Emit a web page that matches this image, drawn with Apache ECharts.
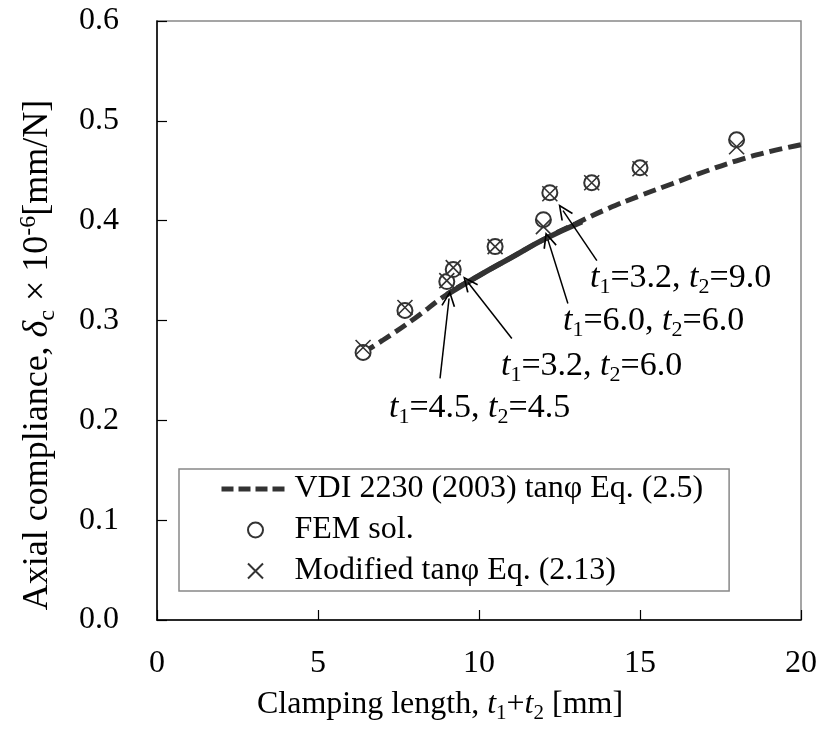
<!DOCTYPE html>
<html>
<head>
<meta charset="utf-8">
<script src="https://cdn.jsdelivr.net/npm/echarts@6/dist/echarts.min.js"></script>
<style>
	html, body {margin: 0; padding: 0; background: #fff;}
	#main {width: 820px; height: 730px;}
</style>
</head>
<body>
<div id="main"></div>
<script>
// ===========================================  data
// clamping length t1+t2 [mm]
var clampLen = [6.4, 7.7, 9.0, 9.2, 10.5, 12.0, 12.2, 13.5, 15.0, 18.0];
// axial compliance x 10^-6 [mm/N]
var femSol   = [0.268, 0.310, 0.339, 0.351, 0.374, 0.401, 0.428, 0.438, 0.453, 0.481];
var modTan   = [0.273, 0.313, 0.340, 0.353, 0.374, 0.394, 0.427, 0.438, 0.452, 0.474];
// VDI 2230 (2003) curve
var vdiLen = [6.4, 7, 8, 9, 10, 11, 12, 13, 14, 15, 16, 17, 18, 19, 20];
var vdiVal = [0.268, 0.280, 0.302, 0.326, 0.345, 0.363, 0.381, 0.397, 0.412, 0.425, 0.437, 0.449, 0.460, 0.469, 0.476];
// solid part of the curve (range of the bolted joints)
var solidLen = [9.0, 10, 11, 12, 13.2];
var solidVal = [0.326, 0.345, 0.363, 0.381, 0.399];
// tick labels
var xTicks = ['0', '5', '10', '15', '20'];
var yTicks = ['0.0', '0.1', '0.2', '0.3', '0.4', '0.5', '0.6'];
// arrows (data coords): tail -> tip
var arrowFrom = [[8.79, 0.242], [11.02, 0.282], [12.76, 0.317], [13.66, 0.360]];
var arrowTo   = [[9.07, 0.322], [9.66, 0.338], [12.14, 0.381], [12.61, 0.410]];
// annotation labels
var noteT1 = ['4.5', '3.2', '6.0', '3.2'];
var noteT2 = ['4.5', '6.0', '6.0', '9.0'];

var FONT = '"Liberation Serif", "Times New Roman", serif';
function richStyle(size) {
	var sub = Math.round(size * 0.66);
	var lh = Math.round(size * 1.2);
	return {
		i: {fontStyle: 'italic', fontSize: size, fontFamily: FONT, lineHeight: lh, fill: '#000', color: '#000'},
		s: {fontSize: sub, fontFamily: FONT, lineHeight: sub, verticalAlign: 'bottom', fill: '#000', color: '#000'},
		u: {fontSize: sub, fontFamily: FONT, lineHeight: sub, verticalAlign: 'top', fill: '#000', color: '#000'},
		n: {fontSize: size, fontFamily: FONT, lineHeight: lh, fill: '#000', color: '#000'}
	};
}

function pair(xs, ys) {
	var out = [];
	for (var i = 0; i < xs.length; i++) out.push([xs[i], ys[i]]);
	return out;
}

function noteText(k) {
	return '{i|t}{s|1}{n|=' + noteT1[k] + ', }{i|t}{s|2}{n|=' + noteT2[k] + '}';
}

// ===========================================  render
var myChart = echarts.init(document.getElementById('main'));

var arrowHead = 'path://M0,0 L6,13 L4.7,13.7 L0,3.2 L-4.7,13.7 L-6,13 Z';
var arrows = [];
for (var k = 0; k < arrowFrom.length; k++) {
	arrows.push([{coord: arrowFrom[k]}, {coord: arrowTo[k]}]);
}

// label positions (px): left, centre y
var notePos = [[389, 408], [501, 366], [563, 321], [590, 278]];
var graphics = [];
for (var k = 0; k < notePos.length; k++) {
	graphics.push({
		type: 'text', x: notePos[k][0], y: notePos[k][1], silent: true,
		style: {
			text: noteText(k), rich: richStyle(34), font: '34px ' + FONT, fill: '#000',
			align: 'left', verticalAlign: 'middle', textAlign: 'left', textVerticalAlign: 'middle'
		}
	});
}
// axis titles
graphics.push({
	type: 'text', silent: true, x: 440, y: 705,
	style: {
		text: '{n|Clamping length, }{i|t}{s|1}{n|+}{i|t}{s|2}{n| [mm]}',
		rich: richStyle(32), align: 'center', verticalAlign: 'middle',
		textAlign: 'center', textVerticalAlign: 'middle', font: '32px ' + FONT
	}
});
graphics.push({
	type: 'text', silent: true, x: 38, y: 355, rotation: Math.PI / 2,
	style: {
		text: '{n|Axial compliance, }{i|δ}{s|c}{n| × 10}{u|-6}{n|[mm/N]}',
		rich: richStyle(36), align: 'center', verticalAlign: 'middle',
		textAlign: 'center', textVerticalAlign: 'middle', font: '36px ' + FONT
	}
});

var option = {
	animation: false,
	backgroundColor: '#fff',
	grid: {left: 157, right: 18, top: 21, bottom: 110, show: true, borderColor: '#888', borderWidth: 1.5},
	legend: {
		orient: 'vertical',
		left: 179, top: 469,
		padding: [4, 26, 4, 40],
		itemGap: 9,
		itemWidth: 68, itemHeight: 15,
		backgroundColor: '#fff',
		borderColor: '#888', borderWidth: 1.5, borderRadius: 0,
		textStyle: {fontFamily: FONT, fontSize: 32, color: '#000'},
		data: [
			{name: 'VDI 2230 (2003) tanφ Eq. (2.5)', itemStyle: {opacity: 0},
				lineStyle: {color: '#333', width: 5, type: [12, 5]}},
			'FEM sol.',
			'Modified tanφ Eq. (2.13)'
		]
	},
	xAxis: {
		type: 'value', min: 0, max: 20, interval: 5,
		axisLine: {lineStyle: {color: '#000', width: 1.5}},
		axisTick: {inside: true, length: 10, lineStyle: {color: '#000', width: 1.2}},
		axisLabel: {
			margin: 28, fontFamily: FONT, fontSize: 32, color: '#000',
			formatter: function(v) { return xTicks[Math.round(v / 5)]; }
		},
		splitLine: {show: false}
	},
	yAxis: {
		type: 'value', min: 0, max: 0.6, interval: 0.1,
		axisLine: {show: true, lineStyle: {color: '#000', width: 1.5}},
		axisTick: {show: true, inside: true, length: 10, lineStyle: {color: '#000', width: 1.2}},
		axisLabel: {
			margin: 38, fontFamily: FONT, fontSize: 32, color: '#000',
			formatter: function(v) { return yTicks[Math.round(v * 10)]; }
		},
		splitLine: {show: false}
	},
	graphic: graphics,
	series: [
		{
			name: 'VDI 2230 (2003) tanφ Eq. (2.5)',
			type: 'line',
			data: pair(vdiLen, vdiVal),
			smooth: true,
			showSymbol: false, symbol: 'none',
			lineStyle: {color: '#333', width: 5, type: [13, 6]},
			itemStyle: {color: '#333'},
			z: 2,
			markLine: {
				silent: true,
				symbol: ['none', arrowHead],
				symbolSize: [14, 16],
				label: {show: false},
				lineStyle: {color: '#000', width: 1.5, type: 'solid'},
				emphasis: {disabled: true},
				data: arrows
			}
		},
		{
			name: 'solid',
			type: 'line',
			data: pair(solidLen, solidVal),
			smooth: true,
			showSymbol: false, symbol: 'none',
			lineStyle: {color: '#333', width: 5.5, type: 'solid'},
			z: 2
		},
		{
			name: 'FEM sol.',
			type: 'scatter',
			data: pair(clampLen, femSol),
			symbol: 'emptyCircle', symbolSize: 15,
			itemStyle: {color: '#333', borderColor: '#333', borderWidth: 1.6, opacity: 1},
			z: 3
		},
		{
			name: 'Modified tanφ Eq. (2.13)',
			type: 'scatter',
			data: pair(clampLen, modTan),
			symbol: 'path://M0,0 L10,10 M10,0 L0,10', symbolSize: 15,
			itemStyle: {color: 'transparent', borderColor: '#333', borderWidth: 1.6, opacity: 1},
			z: 4
		}
	]
};
myChart.setOption(option);
</script>
</body>
</html>
